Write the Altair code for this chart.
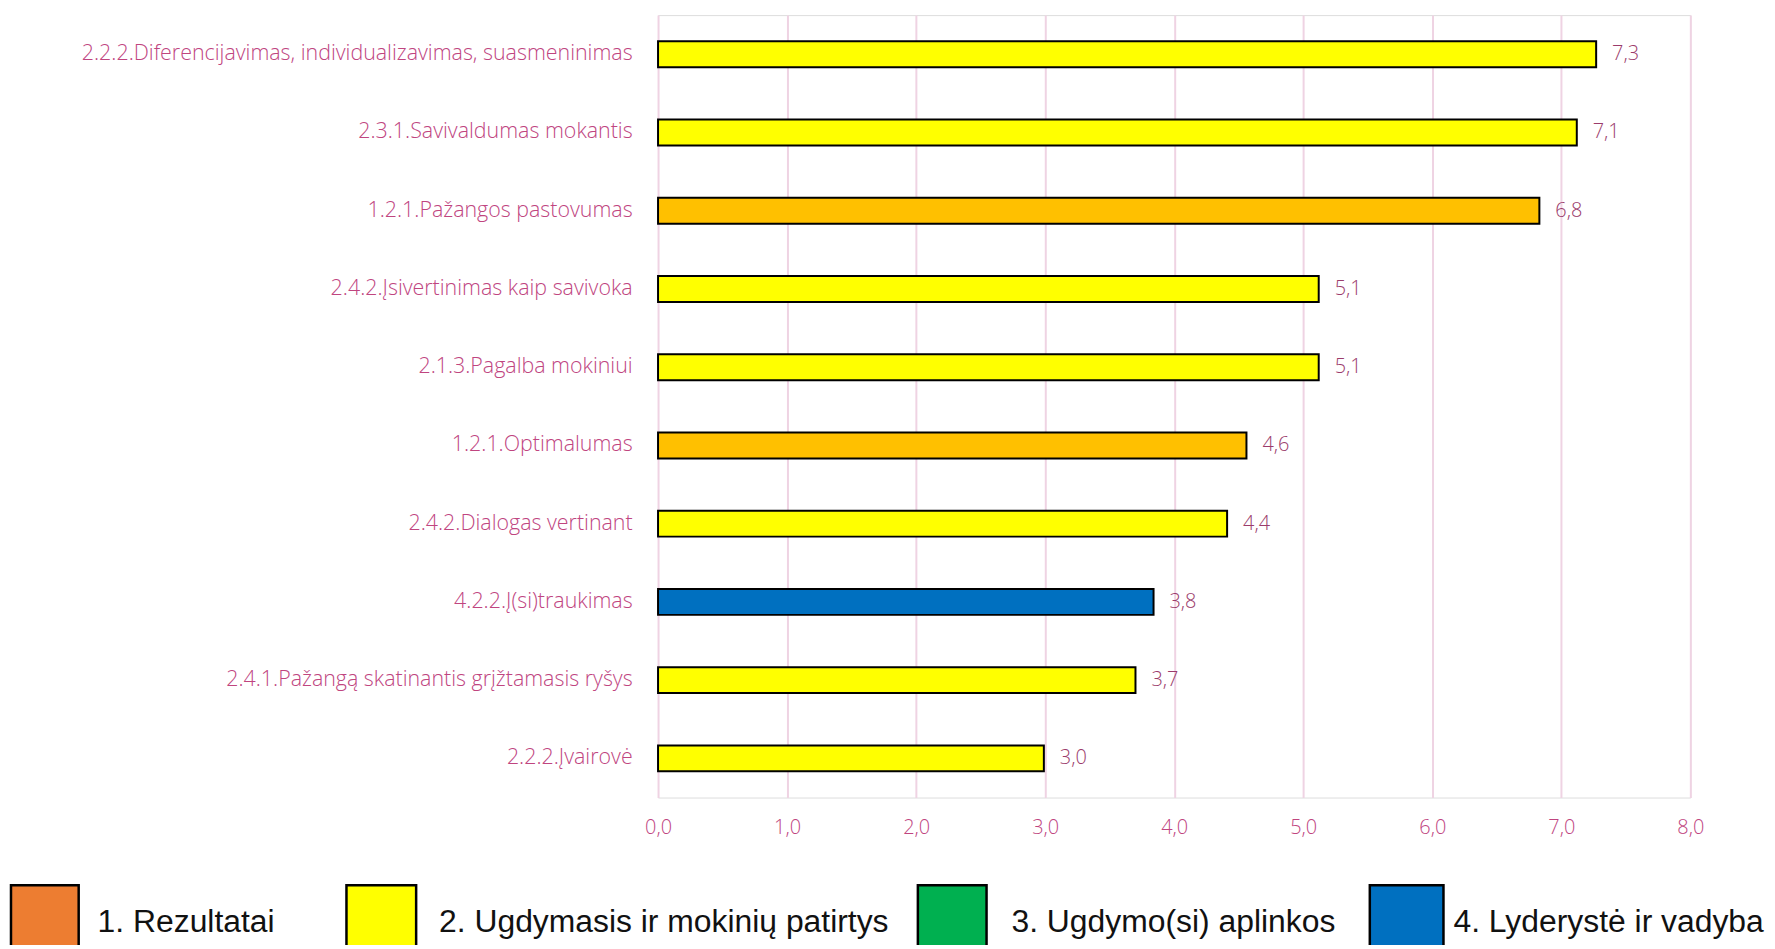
import altair as alt
import pandas as pd

# ---- data ----
categories = [
    "2.2.2.Diferencijavimas, individualizavimas, suasmeninimas",
    "2.3.1.Savivaldumas mokantis",
    "1.2.1.Pažangos pastovumas",
    "2.4.2.Įsivertinimas kaip savivoka",
    "2.1.3.Pagalba mokiniui",
    "1.2.1.Optimalumas",
    "2.4.2.Dialogas vertinant",
    "4.2.2.Į(si)traukimas",
    "2.4.1.Pažangą skatinantis grįžtamasis ryšys",
    "2.2.2.Įvairovė",
]
values = [7.27, 7.12, 6.83, 5.12, 5.12, 4.56, 4.41, 3.84, 3.70, 2.99]
groups = ["2", "2", "1", "2", "2", "1", "2", "4", "2", "2"]

x_ticks = [0, 1, 2, 3, 4, 5, 6, 7, 8]

legend_labels = [
    "1. Rezultatai",
    "2. Ugdymasis ir mokinių patirtys",
    "3. Ugdymo(si) aplinkos",
    "4. Lyderystė ir vadyba",
]

# ---- styles ----
group_domain = ["1", "2", "3", "4"]
bar_colors = ["#FFC000", "#FFFF00", "#00B050", "#0070C0"]
legend_colors = ["#ED7D31", "#FFFF00", "#00B050", "#0070C0"]
label_color = "#C0457F"
value_color = "#9B3B6B"
grid_color = "#EFD3E3"
FONT = "Open Sans"
FW = 300

W, H = 1037, 786

df = pd.DataFrame({"cat": categories, "val": values, "grp": groups})

base = alt.Chart(df)

bars = base.mark_bar(size=26, stroke="black", strokeWidth=2).encode(
    y=alt.Y(
        "cat:N",
        sort=categories,
        scale=alt.Scale(paddingInner=0, paddingOuter=0),
        axis=alt.Axis(
            title=None, ticks=False, domain=False, grid=False,
            labelFont=FONT, labelFontSize=21.5, labelFontWeight=FW, labelColor=label_color,
            labelPadding=26, labelLimit=900,
        ),
    ),
    x=alt.X(
        "val:Q",
        scale=alt.Scale(domain=[0, 8], nice=False, zero=True),
        axis=alt.Axis(
            title=None, values=x_ticks, ticks=False, domain=False,
            grid=True, gridColor=grid_color, gridWidth=2,
            labelFont=FONT, labelFontSize=20, labelFontWeight=FW, labelColor=label_color,
            labelPadding=20, labelFlush=False,
            labelExpr="replace(format(datum.value, '.1f'), '.', ',')",
        ),
    ),
    fill=alt.Fill("grp:N", scale=alt.Scale(domain=group_domain, range=bar_colors), legend=None),
)

texts = base.transform_calculate(
    lbl="replace(format(datum.val, '.1f'), '.', ',')"
).mark_text(
    align="left", baseline="middle", dx=16, font=FONT, fontSize=20, fontWeight=FW,
    color=value_color,
).encode(
    y=alt.Y("cat:N", sort=categories),
    x=alt.X("val:Q"),
    text=alt.Text("lbl:N"),
)

# ---- custom legend (layout in plot-area pixel coordinates) ----
box_x = [(-650, -582), (-313, -243), (261, 330), (715, 789)]
text_x = [-563, -220, 355, 799]
BOX_TOP, BOX_BOTTOM, TEXT_BASE = 874, 960, 921

legend_layers = []
for i, lab in enumerate(legend_labels):
    ldf = pd.DataFrame({"label": [lab]})
    legend_layers.append(
        alt.Chart(ldf).mark_rect(stroke="black", strokeWidth=2.5, fill=legend_colors[i]).encode(
            x=alt.value(box_x[i][0]), x2=alt.value(box_x[i][1]),
            y=alt.value(BOX_TOP), y2=alt.value(BOX_BOTTOM),
        )
    )
    legend_layers.append(
        alt.Chart(ldf).mark_text(
            align="left", baseline="alphabetic", font="Liberation Sans",
            fontSize=32, color="#111111",
        ).encode(
            x=alt.value(text_x[i]), y=alt.value(TEXT_BASE), text="label:N",
        )
    )

chart = alt.layer(bars, texts, *legend_layers).properties(
    width=W, height=H,
    autosize=alt.AutoSizeParams(type="none"),
    padding={"left": 653, "top": 5, "right": 77, "bottom": 146},
).configure_view(stroke=None).configure(background="white")

chart.save("out.html", embed_options={"renderer": "svg", "actions": False})
